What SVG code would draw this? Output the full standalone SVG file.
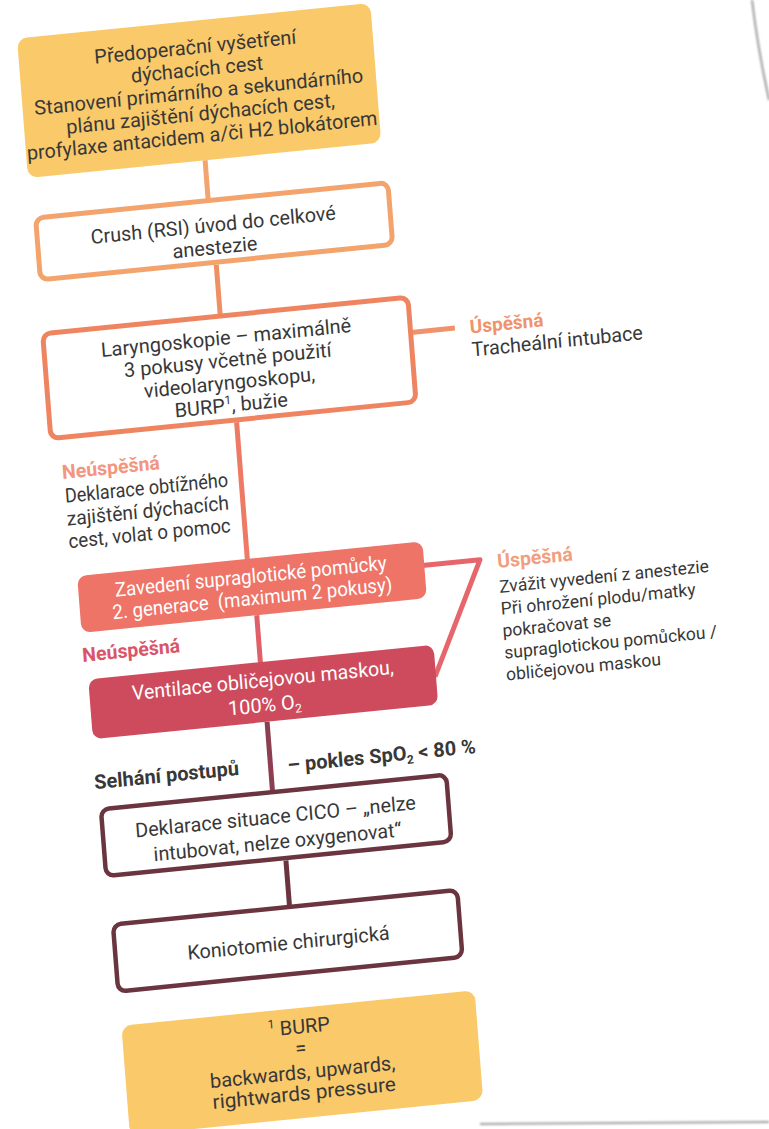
<svg xmlns="http://www.w3.org/2000/svg" width="769" height="1129" viewBox="0 0 769 1129">
  <style>
    text { font-family: Roboto, "Liberation Sans", sans-serif; font-size: 20px; fill: #383838; }
    .c { text-anchor: middle; }
    .w { fill: #ffffff; }
    .b { font-weight: 700; }
    .note { font-size: 17.5px; }
    .ok1 { fill: #F0936C; font-weight: 700; font-size: 19px; }
    .ok2 { fill: #F0A080; font-weight: 700; font-size: 19.5px; }
    .ko1 { fill: #F29680; font-weight: 700; font-size: 19.5px; }
    .ko2 { fill: #D9556A; font-weight: 700; font-size: 19.5px; }
    .line { fill: none; stroke-width: 5; stroke-linecap: butt; stroke-linejoin: round; }
  </style>
  <defs>
    <filter id="soft" x="-20%" y="-20%" width="140%" height="140%">
      <feGaussianBlur stdDeviation="1.2"/>
    </filter>
  </defs>
  <rect width="769" height="1129" fill="#ffffff"/>

  <!-- page edges -->
  <g id="page-edge" filter="url(#soft)">
    <path d="M752 0 Q758 50 769 100" fill="none" stroke="#9a9a9a" stroke-width="2"/>
    <path d="M480 1124 L769 1122" fill="none" stroke="#a0a0a0" stroke-width="2"/>
  </g>

  <g id="sheet" transform="matrix(0.995,-0.1,0.078,0.997,0,0)">
    <g id="connectors">
      <line class="line" x1="192" y1="180" x2="192" y2="220" stroke="#F2A46C"/>
      <line class="line" x1="195" y1="285" x2="195" y2="336" stroke="#EF9064"/>
      <line class="line" x1="203" y1="444" x2="203" y2="583" stroke="#EE7A66"/>
      <line class="line" x1="208" y1="638" x2="208" y2="687" stroke="#E0606A"/>
      <line class="line" x1="210" y1="745" x2="210" y2="815" stroke="#8C3F50"/>
      <line class="line" x1="218" y1="885" x2="218" y2="931" stroke="#6B3540"/>
      <line class="line" x1="384" y1="372" x2="428" y2="372" stroke="#F0936C"/>
      <polyline class="line" points="377,605 435,605 381,717" stroke="#E6676B"/>
    </g>

    <g id="n-preop">
      <rect x="14" y="40" width="355" height="140" rx="10" fill="#F9C96A"/>
      <text class="c" x="191" y="73">Předoperační vyšetření</text>
      <text class="c" x="191" y="95.5">dýchacích cest</text>
      <text class="c" x="191" y="118">Stanovení primárního a sekundárního</text>
      <text class="c" x="191" y="140">plánu zajištění dýchacích cest,</text>
      <text class="c" x="191" y="162" textLength="352" lengthAdjust="spacingAndGlyphs">profylaxe antacidem a/či H2 blokátorem</text>
    </g>

    <g id="n-rsi">
      <rect x="18.5" y="220.5" width="354" height="62" rx="8" fill="#ffffff" stroke="#F2A46C" stroke-width="5"/>
      <text class="c" x="195" y="252" font-size="19.5" textLength="246" lengthAdjust="spacingAndGlyphs">Crush (RSI) úvod do celkové</text>
      <text class="c" x="195" y="274.5" font-size="19.5">anestezie</text>
    </g>

    <g id="n-laryngoscopy">
      <rect x="16.5" y="336.5" width="367" height="105" rx="8" fill="#ffffff" stroke="#EE8560" stroke-width="5"/>
      <text class="c" x="199" y="365.5">Laryngoskopie – maximálně</text>
      <text class="c" x="199" y="388">3 pokusy včetně použití</text>
      <text class="c" x="199" y="410.5">videolaryngoskopu,</text>
      <text class="c" x="199" y="433">BURP<tspan font-size="12" dy="-8">1</tspan><tspan dy="8">, bužie</tspan></text>
    </g>

    <g id="l-intubation">
      <text class="ok1" x="443" y="379">Úspěšná</text>
      <text x="443" y="402" textLength="172" lengthAdjust="spacingAndGlyphs">Tracheální intubace</text>
    </g>

    <g id="l-difficult">
      <text class="ko1" x="25" y="483">Neúspěšná</text>
      <text x="26" y="507" font-size="18.5" textLength="164" lengthAdjust="spacingAndGlyphs">Deklarace obtížného</text>
      <text x="26" y="530" font-size="18.5" textLength="163" lengthAdjust="spacingAndGlyphs">zajištění dýchacích</text>
      <text x="26" y="552.5" font-size="18.5" textLength="163" lengthAdjust="spacingAndGlyphs">cest, volat o pomoc</text>
    </g>

    <g id="n-supraglottic">
      <rect x="32" y="581" width="347" height="57" rx="9" fill="#EE7468"/>
      <text class="c w" x="205" y="605.5" font-size="18.5" textLength="273" lengthAdjust="spacingAndGlyphs">Zavedení supraglotické pomůcky</text>
      <text class="c w" x="205" y="627.5" font-size="18.5" textLength="281" lengthAdjust="spacingAndGlyphs" xml:space="preserve">2. generace  (maximum 2 pokusy)</text>
    </g>

    <g id="l-wake">
      <text class="ok2" x="452" y="615">Úspěšná</text>
      <text class="note" x="452" y="640">Zvážit vyvedení z anestezie</text>
      <text class="note" x="452" y="662">Při ohrožení plodu/matky</text>
      <text class="note" x="452" y="684">pokračovat se</text>
      <text class="note" x="452" y="706">supraglotickou pomůckou /</text>
      <text class="note" x="452" y="728">obličejovou maskou</text>
    </g>

    <text class="ko2" x="31" y="667">Neúspěšná</text>

    <g id="n-facemask">
      <rect x="35" y="685" width="347" height="60" rx="9" fill="#CE4B5D"/>
      <text class="c w" x="209" y="710" font-size="19.5" textLength="263" lengthAdjust="spacingAndGlyphs">Ventilace obličejovou maskou,</text>
      <text class="c w" x="209" y="735" font-size="19.5">100% O<tspan font-size="12" dy="4">2</tspan></text>
    </g>

    <g id="l-failure">
      <text class="b" x="33" y="795">Selhání postupů</text>
      <text class="b" x="227" y="797">– pokles SpO<tspan font-size="12" dy="4">2</tspan><tspan dy="-4"> &lt; 80 %</tspan></text>
    </g>

    <g id="n-cico">
      <rect x="37.5" y="815.5" width="347" height="67" rx="8" fill="#ffffff" stroke="#6B3540" stroke-width="4.5"/>
      <text class="c" x="211" y="847" font-size="19.5" textLength="282" lengthAdjust="spacingAndGlyphs">Deklarace situace CICO – „nelze</text>
      <text class="c" x="211" y="872.5" font-size="19.5" textLength="249" lengthAdjust="spacingAndGlyphs">intubovat, nelze oxygenovat“</text>
    </g>

    <g id="n-cricothyrotomy">
      <rect x="40.5" y="931.5" width="346" height="67" rx="8" fill="#ffffff" stroke="#6B3540" stroke-width="4.5"/>
      <text class="c" x="214" y="974" textLength="203" lengthAdjust="spacingAndGlyphs">Koniotomie chirurgická</text>
    </g>

    <g id="n-burp">
      <rect x="41" y="1033" width="355" height="110" rx="10" fill="#F9C96A"/>
      <text class="c" x="218" y="1058.5"><tspan font-size="12" dy="-8">1</tspan><tspan dy="8"> BURP</tspan></text>
      <text class="c" x="218" y="1080">=</text>
      <text class="c" x="218" y="1104" textLength="186" lengthAdjust="spacingAndGlyphs">backwards, upwards,</text>
      <text class="c" x="218" y="1125" textLength="184" lengthAdjust="spacingAndGlyphs">rightwards pressure</text>
    </g>
  </g>
</svg>
